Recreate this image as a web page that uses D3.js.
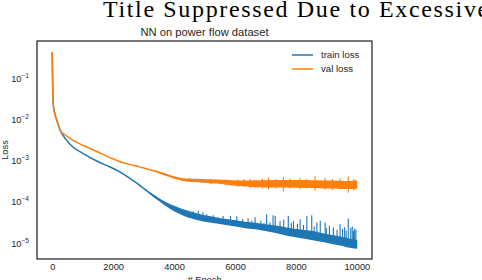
<!DOCTYPE html>
<html>
<head>
<meta charset="utf-8">
<script src="https://cdn.jsdelivr.net/npm/d3@7"></script>
<style>
  body { margin: 0; background: #fff; }
  svg text { font-family: "Liberation Sans", Arial, sans-serif; fill: #262626; }
</style>
</head>
<body>
<div id="chart"></div>
<script>
const epochs = [0, 30, 80, 150, 260, 450, 680, 1020, 1460, 1900, 2230, 2700, 3215, 3540,
  3870, 4300, 4860, 5400, 5900, 6400, 6820, 7400, 7900, 8500, 9000, 9500, 9780, 9990];

// train loss: lower edge (trend) and top of the dense noise band
const trainLoss = [0.40, 0.0234, 0.0135, 0.0091, 0.0052, 3.12e-3, 2.04e-3, 1.41e-3, 9.29e-4,
  6.65e-4, 5.02e-4, 2.96e-4, 1.51e-4, 9.94e-5, 6.71e-5, 4.62e-5, 3.44e-5, 2.95e-5, 2.57e-5,
  2.24e-5, 2.06e-5, 1.69e-5, 1.40e-5, 1.18e-5, 1.0e-5, 8.47e-6, 7.58e-6, 7.17e-6];
const trainLossTop = [0.40, 0.0234, 0.0135, 0.0091, 0.0052, 3.12e-3, 2.04e-3, 1.41e-3, 9.29e-4,
  6.65e-4, 5.02e-4, 2.96e-4, 1.55e-4, 1.08e-4, 7.94e-5, 6.0e-5, 4.55e-5, 3.80e-5, 3.35e-5,
  2.95e-5, 2.72e-5, 2.38e-5, 2.06e-5, 1.80e-5, 1.52e-5, 1.30e-5, 1.16e-5, 1.10e-5];

// val loss: lower and upper edge of its band
const valLossLow = [0.40, 0.0234, 0.0135, 0.0091, 0.0052, 3.86e-3, 2.96e-3, 2.21e-3, 1.58e-3,
  1.12e-3, 8.9e-4, 7.2e-4, 5.7e-4, 4.72e-4, 3.91e-4, 3.19e-4, 2.93e-4, 2.74e-4, 2.48e-4,
  2.32e-4, 2.23e-4, 2.20e-4, 2.18e-4, 2.14e-4, 2.08e-4, 2.04e-4, 2.02e-4, 2.06e-4];
const valLossHigh = [0.40, 0.0234, 0.0135, 0.0091, 0.0052, 3.86e-3, 2.96e-3, 2.21e-3, 1.58e-3,
  1.12e-3, 8.9e-4, 7.2e-4, 5.7e-4, 4.88e-4, 4.09e-4, 3.41e-4, 3.28e-4, 3.17e-4, 3.03e-4,
  3.0e-4, 3.04e-4, 3.07e-4, 3.10e-4, 3.04e-4, 3.00e-4, 2.94e-4, 2.92e-4, 3.03e-4];

// single-epoch spikes: [epoch, low, high]
const trainSpikes = [
  [4420, 4.4e-5, 5.68e-5], [4630, 4.0e-5, 5.58e-5], [4800, 3.6e-5, 5.68e-5], [4950, 3.35e-5, 5.28e-5],
  [5070, 3.25e-5, 4.73e-5], [5150, 3.2e-5, 4.2e-5], [5290, 3.05e-5, 4.48e-5], [5450, 2.95e-5, 4.0e-5],
  [5610, 2.8e-5, 4.31e-5], [5750, 2.7e-5, 3.6e-5], [5850, 2.65e-5, 4.31e-5], [6060, 2.5e-5, 4.23e-5],
  [6250, 2.4e-5, 3.6e-5], [6430, 2.28e-5, 3.79e-5], [6550, 2.2e-5, 3.3e-5], [6660, 2.15e-5, 4.0e-5],
  [6850, 2.05e-5, 3.3e-5], [6950, 2.0e-5, 2.9e-5], [7040, 1.9e-5, 4.73e-5], [7150, 1.85e-5, 3.0e-5],
  [7250, 1.8e-5, 4.48e-5], [7320, 1.75e-5, 4.31e-5], [7480, 1.65e-5, 3.26e-5], [7600, 1.6e-5, 3.5e-5],
  [7750, 1.5e-5, 4.31e-5], [7850, 1.45e-5, 2.9e-5], [7920, 1.4e-5, 3.26e-5], [8050, 1.35e-5, 2.8e-5],
  [8140, 1.3e-5, 3.58e-5], [8250, 1.26e-5, 2.6e-5], [8360, 1.22e-5, 4.31e-5], [8520, 1.17e-5, 4.48e-5],
  [8600, 1.14e-5, 2.4e-5], [8690, 1.11e-5, 2.98e-5], [8800, 1.07e-5, 3.3e-5], [8960, 1.02e-5, 2.98e-5],
  [9000, 1.0e-5, 2.2e-5], [9100, 9.7e-6, 2.5e-5], [9230, 9.3e-6, 2.26e-5], [9350, 9.0e-6, 2.0e-5],
  [9450, 8.6e-6, 2.72e-5], [9530, 8.4e-6, 2.1e-5], [9600, 8.2e-6, 2.3e-5], [9650, 8.0e-6, 1.9e-5],
  [9720, 7.8e-6, 3.72e-5], [9800, 7.6e-6, 2.2e-5], [9850, 7.5e-6, 2.4e-5], [9890, 7.4e-6, 1.87e-5],
  [9930, 7.3e-6, 2.1e-5], [9970, 7.2e-6, 2.0e-5]
];
const valSpikes = [
  [4500, 3.1e-4, 3.6e-4], [4900, 2.85e-4, 3.45e-4], [5200, 2.6e-4, 3.4e-4], [5500, 2.55e-4, 3.35e-4],
  [5700, 2.4e-4, 3.3e-4], [6100, 2.2e-4, 3.3e-4], [6300, 2.2e-4, 3.4e-4], [6500, 2.1e-4, 3.4e-4],
  [6900, 2.0e-4, 3.5e-4], [7100, 1.9e-4, 3.68e-4], [7350, 2.0e-4, 3.4e-4], [7590, 1.72e-4, 3.83e-4],
  [7800, 2.0e-4, 3.5e-4], [8140, 1.9e-4, 3.55e-4], [8350, 2.0e-4, 3.4e-4], [8630, 1.79e-4, 3.96e-4],
  [8960, 1.9e-4, 3.6e-4], [9200, 1.85e-4, 3.4e-4], [9450, 1.9e-4, 3.5e-4], [9720, 1.58e-4, 3.96e-4],
  [9900, 1.8e-4, 3.4e-4]
];

const xTicks = [0, 2000, 4000, 6000, 8000, 10000];
const yTicks = [1e-1, 1e-2, 1e-3, 1e-4, 1e-5];
const seriesNames = ["train loss", "val loss"];
const colors = ["#1f77b4", "#ff7f0e"];

const W = 482, H = 280;
const margin = {top: 41, right: 110, bottom: 21, left: 37};
const width = W - margin.left - margin.right;
const height = H - margin.top - margin.bottom;

const svg = d3.select("#chart").append("svg")
    .attr("width", W)
    .attr("height", H);

// suptitle (runs off the right edge, as in the original)
svg.append("text")
    .attr("x", 103)
    .attr("y", 17)
    .style("font-family", "'Liberation Serif', 'Times New Roman', serif")
    .style("font-size", "24px")
    .style("letter-spacing", "1.65px")
    .style("fill", "#000")
    .text("Title Suppressed Due to Excessive Length");

const g = svg.append("g")
    .attr("transform", "translate(" + margin.left + "," + margin.top + ")");

var x = d3.scaleLinear()
    .domain([-500, 10499])
    .range([0, width]);
var y = d3.scaleLog()
    .domain([Math.pow(10, -5.41), Math.pow(10, -0.119)])
    .range([height, 0]);

g.append("clipPath").attr("id", "clip")
  .append("rect").attr("width", width).attr("height", height);

const plot = g.append("g").attr("clip-path", "url(#clip)");

function drawSeries(low, high, spikes, color) {
  const area = d3.area()
      .curve(d3.curveMonotoneX)
      .x(i => x(epochs[i]))
      .y0(i => y(low[i]))
      .y1(i => y(high[i]));
  plot.append("path")
      .datum(d3.range(epochs.length))
      .attr("d", area)
      .attr("fill", color)
      .attr("stroke", color)
      .attr("stroke-width", 1.5)
      .attr("stroke-linejoin", "round");
  plot.selectAll(null)
      .data(spikes)
      .enter().append("line")
      .attr("x1", d => x(d[0])).attr("x2", d => x(d[0]))
      .attr("y1", d => y(d[1])).attr("y2", d => y(d[2]))
      .attr("stroke", color)
      .attr("stroke-width", 1.1);
}

drawSeries(trainLoss, trainLossTop, trainSpikes, colors[0]);
drawSeries(valLossLow, valLossHigh, valSpikes, colors[1]);

// frame
g.append("rect")
    .attr("width", width)
    .attr("height", height)
    .attr("fill", "none")
    .attr("stroke", "#262626")
    .attr("stroke-width", 1.25);

// x axis
const xAxis = g.append("g")
    .attr("transform", "translate(0," + height + ")")
    .call(d3.axisBottom(x).tickValues(xTicks).tickSize(0).tickPadding(4).tickFormat(d3.format("d")));
xAxis.select(".domain").remove();
xAxis.selectAll("text").style("font-size", "9.3px").attr("fill", "#262626");

// y axis with 10^n labels
const yAxis = g.append("g")
    .call(d3.axisLeft(y).tickValues(yTicks).tickSize(0).tickFormat(""));
yAxis.select(".domain").remove();
yAxis.selectAll(".tick").each(function(d) {
  const t = d3.select(this).select("text")
      .attr("x", -8)
      .attr("dy", null)
      .attr("y", 4)
      .attr("text-anchor", "end")
      .attr("fill", "#262626")
      .style("font-size", "9.3px");
  t.append("tspan").text("10");
  t.append("tspan")
      .attr("dy", -4)
      .style("font-size", "6.6px")
      .text("\u2212" + Math.round(-Math.log10(d)));
});

// titles and labels
g.append("text")
    .attr("x", width / 2)
    .attr("y", -5)
    .attr("text-anchor", "middle")
    .style("font-size", "11.2px")
    .text("NN on power flow dataset");

g.append("text")
    .attr("x", width / 2)
    .attr("y", height + 24)
    .attr("text-anchor", "middle")
    .style("font-size", "9.3px")
    .text("# Epoch");

g.append("text")
    .attr("transform", "translate(-29," + (height / 2) + ") rotate(-90)")
    .attr("text-anchor", "middle")
    .style("font-size", "9.3px")
    .text("Loss");

// legend
const legend = g.append("g")
    .attr("transform", "translate(" + (width - 80) + ",14)");
seriesNames.forEach((name, i) => {
  const row = legend.append("g").attr("transform", "translate(0," + (i * 14) + ")");
  row.append("line")
      .attr("x1", 0).attr("x2", 21)
      .attr("stroke", colors[i])
      .attr("stroke-width", 1.5);
  row.append("text")
      .attr("x", 29)
      .attr("y", 3.3)
      .style("font-size", "9.6px")
      .text(name);
});
</script>
</body>
</html>
